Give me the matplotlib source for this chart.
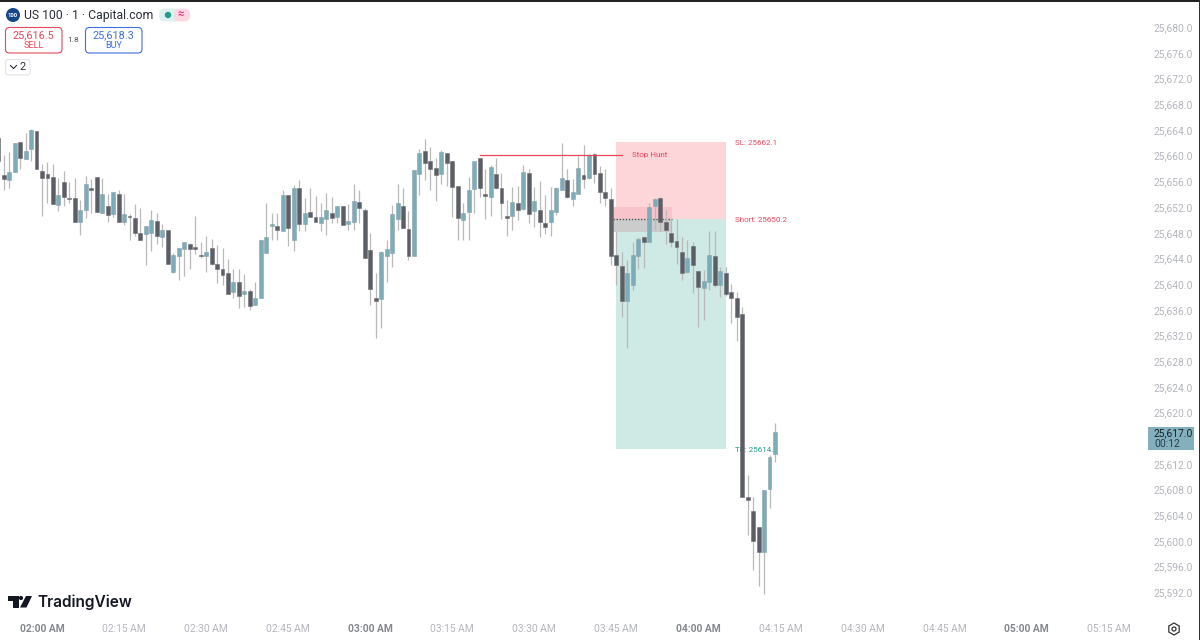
import numpy as np
import matplotlib
matplotlib.use("Agg")
import matplotlib.pyplot as plt
from matplotlib.patches import Rectangle, FancyBboxPatch, Circle, Polygon, RegularPolygon

# one-minute candles, minutes counted from 02:00, prices as offset from base
base = 25600
first_minute = -8

opens = [62.7, 57.0, 56.2, 57.5, 62.1, 59.5, 61.1, 63.8, 57.6, 57.1, 56.7, 52.3, 55.9, 53.4, 53.4, 49.6, 51.5, 55.0,
         56.7, 51.1, 52.1, 50.9, 54.1, 49.7, 50.6, 50.3, 47.9, 47.8, 47.9, 49.8, 47.3, 48.4, 41.9, 44.4, 45.4, 46.3,
         45.6, 44.6, 44.3, 45.6, 43.1, 42.3, 41.8, 38.8, 40.3, 38.4, 39.0, 36.8, 37.9, 44.9, 49.0, 49.0, 48.3, 53.8,
         46.8, 55.0, 49.4, 51.3, 50.4, 49.5, 50.2, 51.1, 50.5, 52.1, 49.4, 49.7, 52.8, 51.5, 45.3, 37.8, 37.7, 44.3,
         44.8, 50.2, 52.1, 48.6, 44.3, 57.1, 60.7, 59.1, 58.1, 57.2, 60.4, 59.1, 55.3, 50.0, 51.3, 54.8, 59.7, 54.1,
         53.6, 57.1, 55.0, 50.6, 50.6, 52.7, 51.7, 57.3, 51.4, 51.6, 49.5, 49.6, 51.3, 54.6, 56.2, 53.2, 54.0, 57.0,
         56.5, 60.3, 57.3, 54.4, 53.3, 44.5, 42.8, 37.4, 39.8, 44.3, 47.4, 46.6, 52.1, 53.4, 49.6, 48.0, 46.7, 45.0,
         41.9, 46.0, 42.0, 39.4, 40.3, 44.4, 39.9, 41.8, 38.8, 37.9, 35.3, 6.8, 4.7, 2.2, -1.7, 8.1, 13.5]
highs = [62.7, 60.1, 60.6, 62.0, 62.1, 63.6, 64.2, 63.8, 58.7, 59.0, 58.7, 56.6, 57.6, 55.9, 56.6, 53.1, 56.8, 56.3,
         56.7, 56.6, 54.0, 54.4, 54.7, 54.0, 50.9, 52.5, 51.9, 49.1, 51.5, 51.1, 49.3, 48.4, 44.8, 45.6, 46.5, 46.4,
         50.6, 46.6, 47.5, 47.0, 46.1, 45.6, 43.9, 42.4, 42.3, 41.6, 39.3, 40.4, 46.9, 52.7, 51.0, 51.0, 54.7, 53.8,
         55.4, 56.2, 53.4, 54.9, 53.7, 52.6, 54.2, 53.5, 52.2, 52.1, 52.5, 55.6, 54.6, 51.8, 48.0, 41.8, 45.1, 46.8,
         52.3, 55.6, 54.9, 51.4, 57.7, 61.1, 62.6, 61.4, 59.7, 60.9, 60.4, 59.1, 55.3, 52.6, 56.7, 59.1, 59.7, 58.0,
         58.5, 59.7, 57.3, 53.1, 55.1, 55.2, 58.5, 58.0, 55.1, 56.1, 53.9, 55.1, 55.1, 61.9, 57.9, 56.3, 60.0, 61.6,
         60.3, 60.4, 58.4, 57.9, 55.0, 48.2, 45.0, 43.8, 46.5, 47.4, 47.5, 52.6, 53.4, 53.5, 51.5, 50.2, 50.2, 47.4,
         46.9, 46.6, 42.1, 42.2, 48.2, 48.2, 42.7, 42.7, 40.0, 38.8, 36.5, 10.3, 6.8, 2.2, 7.9, 13.4, 18.3]
lows = [59.1, 54.7, 55.0, 57.5, 57.9, 59.5, 59.2, 58.0, 50.6, 52.6, 52.4, 51.4, 52.2, 52.6, 49.7, 47.7, 50.3, 51.0,
        51.3, 51.0, 49.6, 50.4, 49.6, 49.2, 46.9, 47.5, 46.9, 43.0, 45.2, 46.2, 45.8, 43.1, 41.8, 40.6, 41.2, 42.3,
        44.7, 44.0, 41.9, 43.0, 40.1, 39.9, 38.5, 37.9, 36.3, 36.5, 36.0, 36.7, 37.9, 44.9, 46.9, 46.9, 48.2, 45.9,
        45.1, 48.2, 48.3, 50.5, 49.7, 48.2, 47.6, 49.5, 49.5, 49.2, 48.5, 48.4, 49.5, 44.0, 36.7, 31.6, 33.2, 40.4,
        42.7, 48.4, 48.7, 43.8, 44.3, 53.9, 56.2, 54.6, 52.9, 55.6, 55.2, 50.4, 46.9, 46.9, 46.9, 51.0, 53.6, 50.2,
        50.6, 54.8, 50.2, 47.5, 48.5, 50.0, 51.6, 49.5, 48.9, 47.4, 47.8, 47.5, 50.8, 54.6, 53.4, 52.1, 54.0, 54.9,
        56.3, 55.7, 52.7, 52.2, 43.0, 39.9, 34.9, 30.0, 39.1, 42.3, 42.5, 46.6, 48.4, 48.2, 46.3, 45.8, 43.2, 40.6,
        41.7, 38.6, 33.3, 34.4, 39.1, 39.6, 38.0, 38.2, 34.0, 31.1, 6.9, 0.9, -4.5, -7.0, -8.3, 5.1, 12.3]
closes = [59.1, 56.4, 57.4, 62.0, 59.6, 60.7, 64.0, 58.0, 56.5, 56.5, 52.4, 53.8, 53.5, 53.2, 49.7, 51.5, 55.6, 54.6,
          51.3, 54.0, 50.8, 54.4, 49.6, 50.9, 50.4, 47.9, 46.9, 49.0, 50.0, 47.5, 48.5, 43.1, 44.6, 45.6, 46.5, 45.5,
          45.5, 44.4, 45.0, 43.2, 42.3, 41.4, 38.5, 40.4, 38.2, 38.9, 36.6, 37.9, 46.9, 47.4, 49.4, 48.4, 53.9, 48.8,
          55.0, 49.3, 51.1, 50.5, 49.7, 50.4, 51.6, 50.3, 52.1, 49.2, 49.9, 52.9, 51.9, 44.1, 39.3, 37.3, 45.0, 45.4,
          50.9, 52.6, 48.8, 44.3, 57.7, 60.4, 58.9, 57.9, 57.0, 60.5, 58.8, 55.1, 50.3, 51.1, 54.7, 59.1, 54.9, 53.7,
          58.3, 54.9, 52.7, 50.3, 52.8, 51.5, 57.4, 50.9, 52.9, 49.7, 48.9, 51.5, 54.9, 56.6, 53.5, 54.4, 58.1, 56.4,
          60.1, 57.1, 54.3, 53.4, 44.3, 42.9, 37.3, 41.8, 44.5, 47.0, 46.5, 52.0, 53.3, 49.7, 48.4, 46.5, 45.7, 41.8,
          44.0, 42.9, 39.6, 40.5, 44.5, 39.8, 42.0, 38.4, 37.8, 34.9, 6.9, 6.3, 0.0, -1.8, 7.9, 13.0, 17.0]

time_labels = ["02:00 AM", "02:15 AM", "02:30 AM", "02:45 AM", "03:00 AM", "03:15 AM", "03:30 AM", "03:45 AM",
               "04:00 AM", "04:15 AM", "04:30 AM", "04:45 AM", "05:00 AM", "05:15 AM"]
time_ticks = [0, 15, 30, 45, 60, 75, 90, 105, 120, 135, 150, 165, 180, 195]
price_ticks = [25592, 25596, 25600, 25604, 25608, 25612, 25620, 25624, 25628, 25632, 25636, 25640, 25644, 25648,
               25652, 25656, 25660, 25664, 25668, 25672, 25676, 25680]

# short position drawing
pos_start, pos_end = 105, 125
stop_loss, entry, take_profit = 25662.1, 25650.2, 25614.3
zone_start, zone_end = 104.3, 115.2
zone_top, zone_bottom = 25652.05, 25648.1
hunt_start, hunt_end, hunt_price = 80, 106, 25660.1

UP = "#7dacb9"
DOWN = "#5c5e66"
WICK = "#b9b9b9"
LABEL = "#b4b6bc"
RED = "#e8465c"
TEAL = "#1f9e8c"
BLUE = "#3f6fe0"

plt.rcParams['font.family'] = ['Roboto', 'DejaVu Sans']

fig = plt.figure(figsize=(12, 6.4), dpi=100, facecolor="white")

# main axes: 5.47 px per minute, 02:00 at px 42, 6.42 px per point
ax = fig.add_axes([0, 22 / 640, 1147 / 1200, 618 / 640])
ax.set_xlim(-42 / 5.47, (1147 - 42) / 5.47)
ax.set_ylim(25664 - (618 - 130) / 6.42, 25664 + 130 / 6.42)
for s in ax.spines.values():
    s.set_visible(False)

ax.add_patch(Rectangle((pos_start, entry), pos_end - pos_start, stop_loss - entry, fc="#fdd6da", ec="none", zorder=1))
ax.add_patch(Rectangle((pos_start, take_profit), pos_end - pos_start, entry - take_profit, fc="#cfe9e4", ec="none", zorder=1))
ax.add_patch(Rectangle((zone_start, entry), zone_end - zone_start, zone_top - entry, fc="#f9c3cb", ec="none", zorder=1.5))
ax.add_patch(Rectangle((zone_start, zone_bottom), zone_end - zone_start, entry - zone_bottom, fc="#cbcccb", ec="none", zorder=1.5))
ax.plot([zone_start, zone_end], [entry, entry], color="#555555", lw=1.0, ls=(0, (1, 1.2)), zorder=1.6)

minutes = np.arange(first_minute, first_minute + len(opens))
o = base + np.array(opens)
h = base + np.array(highs)
l = base + np.array(lows)
c = base + np.array(closes)
up = c >= o
ax.vlines(minutes, l, h, color=WICK, lw=0.9, zorder=2)
ax.bar(minutes[up], (c - o)[up], bottom=o[up], width=0.72, color=UP, edgecolor="#8aa4ac", lw=0.4, zorder=3)
ax.bar(minutes[~up], np.maximum((o - c)[~up], 0.2), bottom=c[~up], width=0.72, color=DOWN, edgecolor="#6d6f76", lw=0.4, zorder=3)

ax.plot([hunt_start, hunt_end], [hunt_price, hunt_price], color=RED, lw=0.9, zorder=4)
ax.text(107.8, hunt_price, "Stop Hunt", color=RED, fontsize=5.8, va="center", zorder=5)
ax.text(126.7, stop_loss - 0.2, "SL: 25662.1", color=RED, fontsize=5.8, va="center", zorder=5)
ax.text(126.7, entry - 0.2, "Short: 25650.2", color=RED, fontsize=5.8, va="center", zorder=5)
ax.text(126.7, take_profit - 0.2, "TP: 25614.3", color=TEAL, fontsize=5.8, va="center", zorder=2.5)

ax.yaxis.tick_right()
ax.set_yticks(price_ticks)
ax.set_yticklabels([f"{p:,.1f}" for p in price_ticks], color=LABEL, fontsize=7.4)
ax.tick_params(axis="y", length=0, pad=5)
ax.set_xticks(time_ticks)
ax.set_xticklabels(time_labels, color=LABEL, fontsize=7.4)
ax.tick_params(axis="x", length=0, pad=4)
for t, lab in zip(ax.get_xticklabels(), time_labels):
    if lab.endswith("00 AM"):
        t.set_color("#85888f")
        t.set_fontweight("bold")

# chrome drawn in pixel coordinates
ov = fig.add_axes([0, 0, 1, 1], facecolor="none")
ov.set_xlim(0, 1200)
ov.set_ylim(640, 0)
ov.axis("off")
ov.add_patch(Rectangle((0, 0), 1200, 2, fc="#222222", ec="none"))
ov.add_patch(Rectangle((1198.5, 0), 1.5, 640, fc="#333333", ec="none"))

ov.add_patch(Circle((13, 15), 7, fc="#14468a", ec="none"))
ov.text(13, 15.3, "100", color="white", fontsize=4.2, fontweight="bold", ha="center", va="center")
ov.text(24, 15, "US 100 · 1 · Capital.com", color="#2a2e39", fontsize=8.8, va="center")
ov.add_patch(FancyBboxPatch((159, 8.5), 22, 13, boxstyle="round,pad=0,rounding_size=6", fc="#dff1ee", ec="none"))
ov.add_patch(FancyBboxPatch((174, 8.5), 16, 13, boxstyle="round,pad=0,rounding_size=6", fc="#fbd7e2", ec="none"))
ov.add_patch(Circle((168, 15), 3.2, fc="#1f9e8c", ec="none"))
ov.text(181, 14.5, "≈", color="#e0407a", fontsize=8, fontweight="bold", ha="center", va="center")

ov.add_patch(FancyBboxPatch((5.5, 27.5), 56.5, 25.5, boxstyle="round,pad=0,rounding_size=4", fc="white", ec=RED, lw=0.8))
ov.text(33.5, 34.8, "25,616.5", color=RED, fontsize=7.8, ha="center", va="center")
ov.text(33.5, 46, "SELL", color=RED, fontsize=6.6, ha="center", va="center")
ov.text(73.5, 40, "1.8", color="#50535e", fontsize=6, ha="center", va="center")
ov.add_patch(FancyBboxPatch((85.5, 27.5), 56.5, 25.5, boxstyle="round,pad=0,rounding_size=4", fc="white", ec=BLUE, lw=0.8))
ov.text(113.7, 34.8, "25,618.3", color=BLUE, fontsize=7.8, ha="center", va="center")
ov.text(113.7, 46, "BUY", color=BLUE, fontsize=6.6, ha="center", va="center")

ov.add_patch(FancyBboxPatch((5.5, 59.5), 24.5, 15.5, boxstyle="round,pad=0,rounding_size=2.5", fc="white", ec="#e2e3e6", lw=0.8))
ov.plot([10.5, 13.5, 16.5], [65.5, 68.5, 65.5], color="#2a2e39", lw=0.8)
ov.text(23, 67, "2", color="#2a2e39", fontsize=7.8, ha="center", va="center")

ov.add_patch(Rectangle((1148, 427), 46, 23, fc="#83b0bc", ec="none"))
ov.text(1154, 433.5, "25,617.0", color="#10222a", fontsize=7.4, va="center")
ov.text(1154, 444, "00:12", color="#26404a", fontsize=7.4, va="center")

ov.add_patch(RegularPolygon((1174, 629), 6, radius=6, fc="white", ec="#333333", lw=0.9))
ov.add_patch(Circle((1174, 629), 2, fc="white", ec="#333333", lw=0.9))

# TradingView logo
ov.add_patch(Polygon([(8, 596), (18.5, 596), (18.5, 607.5), (13, 607.5), (13, 600.5), (8, 600.5)], fc="#131722", ec="none"))
ov.add_patch(Circle((21, 598), 2.1, fc="#131722", ec="none"))
ov.add_patch(Polygon([(26, 596), (32, 596), (26.5, 607.5), (20, 607.5)], fc="#131722", ec="none"))
ov.text(37, 602, "TradingView", color="#131722", fontsize=11.1, fontweight="semibold", family=["Inter", "DejaVu Sans"], va="center")

fig.savefig("out.png", dpi=100, facecolor="white")
